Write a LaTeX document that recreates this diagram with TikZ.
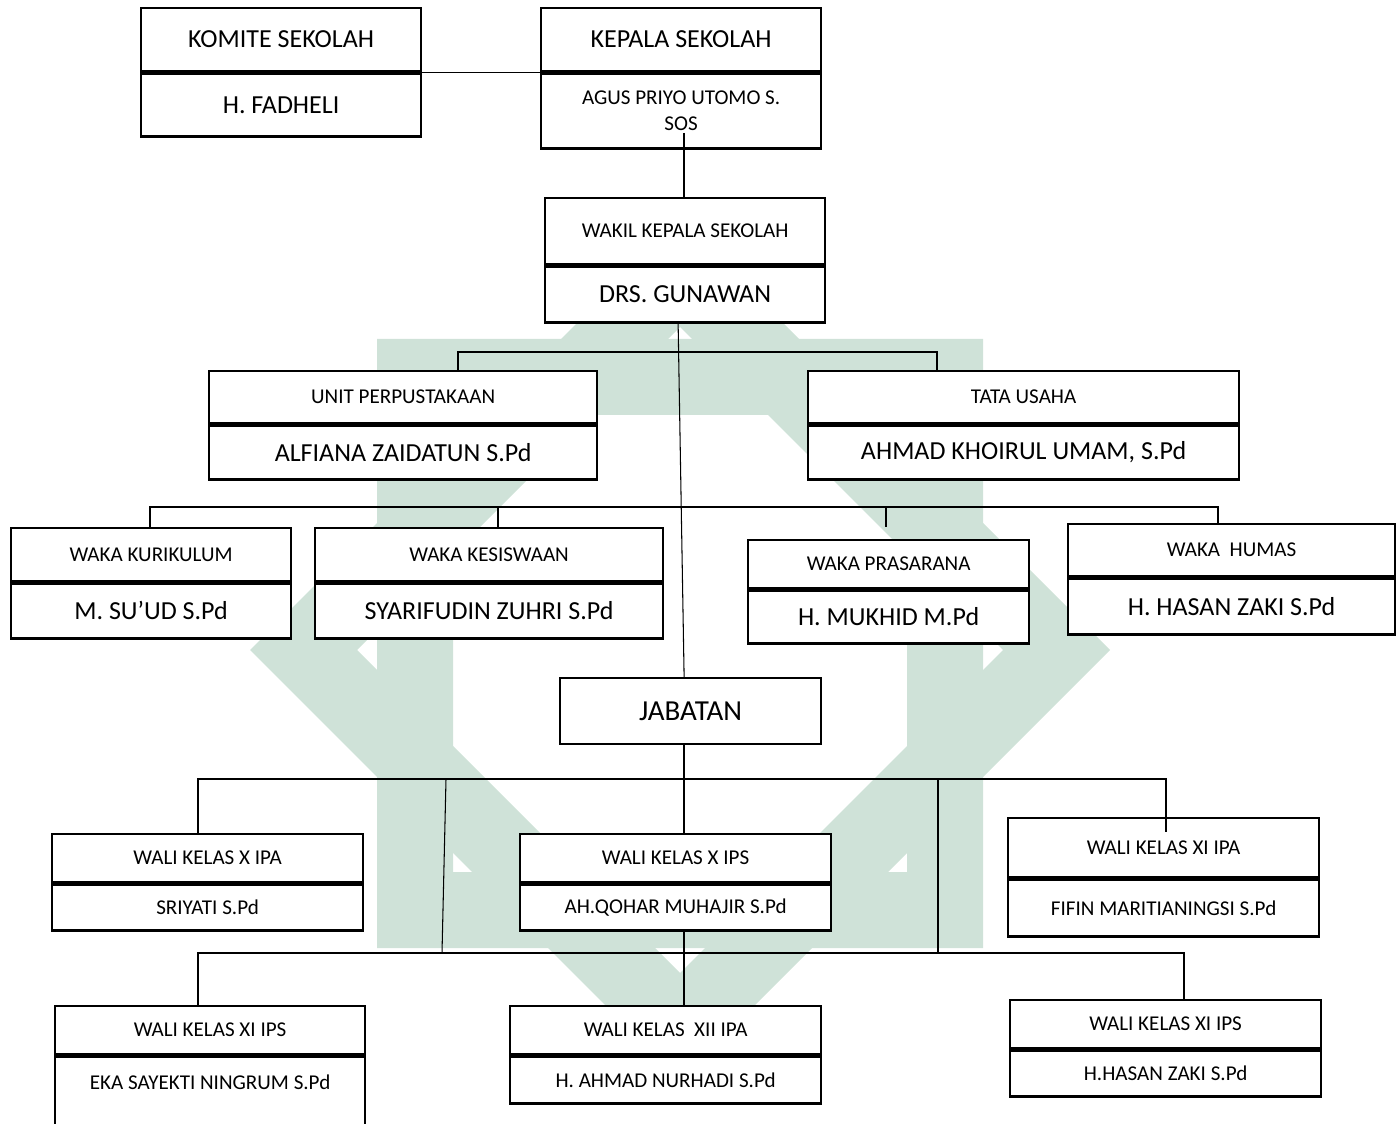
\documentclass[tikz,border=0pt]{standalone}
\usepackage{fontspec}
\setmainfont{Carlito}
\usetikzlibrary{positioning}
\definecolor{logogreen}{RGB}{207,226,216}

\begin{document}
\begin{tikzpicture}[x=0.02cm, y=-0.02cm,
    part/.style={draw, line width=1.3pt, fill=white, anchor=north west, inner sep=0pt,
      align=center, font=\fontsize{12}{14.8}\selectfont},
    big/.style={font=\fontsize{14.8}{18}\selectfont},
    link/.style={line width=0.6pt}]
    \useasboundingbox (0,0) rectangle (1400,1124);

    \fill[logogreen, even odd rule] (377,339) rectangle (983,948) (453,415) rectangle (907,872);
    \fill[logogreen, even odd rule] (250,650) -- (680,220) -- (1110,650) -- (680,1080) -- cycle
        (357,650) -- (680,327) -- (1003,650) -- (680,973) -- cycle;

    \node[part, big, minimum width=5.6cm, minimum height=1.26cm] (komite) at (140,7) {KOMITE SEKOLAH};
    \node[part, big, minimum width=5.6cm, minimum height=1.26cm, below=0pt of komite] (komiten) {H. FADHELI};
    \node[part, big, minimum width=5.6cm, minimum height=1.26cm] (kepala) at (540,7) {KEPALA SEKOLAH};
    \node[part, minimum width=5.6cm, minimum height=1.5cm, below=0pt of kepala] (kepalan) {AGUS PRIYO UTOMO S.\\SOS};
    \node[part, minimum width=5.6cm, minimum height=1.32cm] (wakil) at (544,197) {WAKIL KEPALA SEKOLAH};
    \node[part, big, minimum width=5.6cm, minimum height=1.12cm, below=0pt of wakil] (wakiln) {DRS. GUNAWAN};

    \node[part, minimum width=7.76cm, minimum height=1.04cm] (unit) at (208,370) {UNIT PERPUSTAKAAN};
    \node[part, big, minimum width=7.76cm, minimum height=1.08cm, below=0pt of unit] (unitn) {ALFIANA ZAIDATUN S.Pd};
    \node[part, minimum width=8.62cm, minimum height=1.04cm] (tata) at (807,370) {TATA USAHA};
    \node[part, big, minimum width=8.62cm, minimum height=1.08cm, below=0pt of tata] (tatan) {AHMAD KHOIRUL UMAM, S.Pd};

    \node[part, minimum width=5.6cm, minimum height=1.06cm] (kuri) at (10,527) {WAKA KURIKULUM};
    \node[part, big, minimum width=5.6cm, minimum height=1.1cm, below=0pt of kuri] (kurin) {M. SU’UD S.Pd};
    \node[part, minimum width=6.96cm, minimum height=1.06cm] (kesis) at (314,527) {WAKA KESISWAAN};
    \node[part, big, minimum width=6.96cm, minimum height=1.1cm, below=0pt of kesis] (kesisn) {SYARIFUDIN ZUHRI S.Pd};
    \node[part, minimum width=5.62cm, minimum height=0.96cm] (pras) at (747,539) {WAKA PRASARANA};
    \node[part, big, minimum width=5.62cm, minimum height=1.06cm, below=0pt of pras] (prasn) {H. MUKHID M.Pd};
    \node[part, minimum width=6.54cm, minimum height=1.04cm] (humas) at (1067,523) {WAKA\ \ HUMAS};
    \node[part, big, minimum width=6.54cm, minimum height=1.12cm, below=0pt of humas] (humasn) {H. HASAN ZAKI S.Pd};

    \node[part, font=\fontsize{16.5}{20}\selectfont, minimum width=5.22cm, minimum height=1.32cm] (jabatan) at (559,677) {JABATAN};

    \node[part, minimum width=6.22cm, minimum height=0.96cm] (xipa) at (51,833) {WALI KELAS X IPA};
    \node[part, minimum width=6.22cm, minimum height=0.92cm, below=0pt of xipa] (xipan) {SRIYATI S.Pd};
    \node[part, minimum width=6.22cm, minimum height=0.96cm] (xips) at (519,833) {WALI KELAS X IPS};
    \node[part, minimum width=6.22cm, minimum height=0.92cm, below=0pt of xips] (xipsn) {AH.QOHAR MUHAJIR S.Pd};
    \node[part, minimum width=6.22cm, minimum height=1.18cm] (xiipa) at (1007,817) {WALI KELAS XI IPA};
    \node[part, minimum width=6.22cm, minimum height=1.14cm, below=0pt of xiipa] (xiipan) {FIFIN MARITIANINGSI S.Pd};

    \node[part, minimum width=6.2cm, minimum height=0.96cm] (xiipsl) at (54,1005) {WALI KELAS XI IPS};
    \node[part, minimum width=6.2cm, text height=0.66cm, text depth=1.2cm, below=0pt of xiipsl] (xiipsln) {EKA SAYEKTI NINGRUM S.Pd};
    \node[part, minimum width=6.22cm, minimum height=0.96cm] (xiiipa) at (509,1005) {WALI KELAS\ \ XII IPA};
    \node[part, minimum width=6.22cm, minimum height=0.94cm, below=0pt of xiiipa] (xiiipan) {H. AHMAD NURHADI S.Pd};
    \node[part, minimum width=6.22cm, minimum height=0.96cm] (xiipsr) at (1009,999) {WALI KELAS XI IPS};
    \node[part, minimum width=6.22cm, minimum height=0.92cm, below=0pt of xiipsr] (xiipsrn) {H.HASAN ZAKI S.Pd};

    \coordinate (s1) at (684,133);
    \coordinate (t1) at (458,352);
    \coordinate (t2) at (937,352);
    \coordinate (w1) at (150,507);
    \coordinate (w2) at (1218,507);
    \coordinate (w3) at (498,507);
    \coordinate (w4) at (886,507);
    \coordinate (w5) at (886,527);
    \coordinate (j1) at (198,779);
    \coordinate (j2) at (1166,779);
    \coordinate (j3) at (1166,832);
    \coordinate (jm) at (684,779);
    \coordinate (k1) at (446,779);
    \coordinate (k2) at (938,779);
    \coordinate (m1) at (198,953);
    \coordinate (m2) at (1184,953);
    \coordinate (k3) at (442,953);
    \coordinate (k4) at (938,953);

    \draw[link] (komite.south east) -- (kepala.south west);
    \draw[link] (s1) -- (s1 |- wakil.north);
    \draw[link] ([xshift=-0.14cm]wakiln.south) -- ([xshift=-0.13cm]jabatan.north);
    \draw[link] (t1 |- unit.north) -- (t1) -- (t2) -- (t2 |- tata.north);
    \draw[link] (w1 |- kuri.north) -- (w1) -- (w2) -- (w2 |- humas.north);
    \draw[link] (w3) -- (w3 |- kesis.north);
    \draw[link] (w4) -- (w5);
    \draw[link] (j1 |- xipa.north) -- (j1) -- (j2) -- (j3);
    \draw[link] (jm |- jabatan.south) -- (jm |- xips.north);
    \draw[link] (k1) -- (k3);
    \draw[link] (k2) -- (k4);
    \draw[link] (m1 |- xiipsl.north) -- (m1) -- (m2) -- (m2 |- xiipsr.north);
    \draw[link] (jm |- xipsn.south) -- (jm |- xiiipa.north);
\end{tikzpicture}
\end{document}
